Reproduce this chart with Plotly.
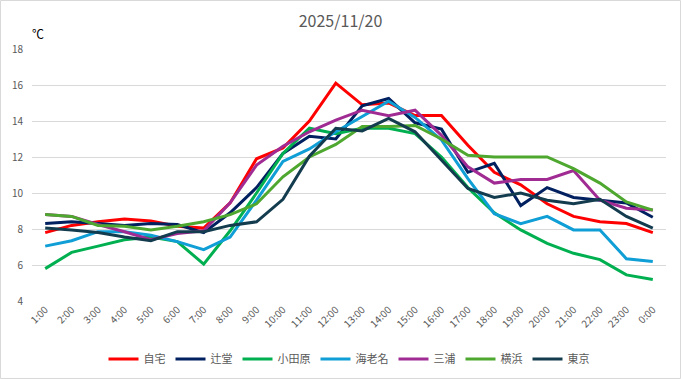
import plotly.graph_objects as go

hours = ["1:00", "2:00", "3:00", "4:00", "5:00", "6:00", "7:00", "8:00", "9:00", "10:00",
         "11:00", "12:00", "13:00", "14:00", "15:00", "16:00", "17:00", "18:00", "19:00",
         "20:00", "21:00", "22:00", "23:00", "0:00"]

jitaku = [7.8, 8.2, 8.4, 8.55, 8.45, 8.15, 8.05, 9.45, 11.9, 12.5, 14.0, 16.1,
          14.9, 15.0, 14.3, 14.3, 12.65, 11.15, 10.45, 9.4, 8.7, 8.4, 8.3, 7.8]
tsujido = [8.3, 8.4, 8.3, 8.2, 8.3, 8.25, 7.8, 8.9, 10.3, 12.2, 13.15, 13.0,
           14.85, 15.25, 13.9, 13.55, 11.15, 11.65, 9.3, 10.3, 9.75, 9.6, 9.45, 8.65]
odawara = [5.8, 6.7, 7.05, 7.4, 7.55, 7.3, 6.05, 7.9, 10.0, 12.2, 13.6, 13.3,
           13.6, 13.6, 13.3, 12.0, 10.3, 8.9, 7.95, 7.2, 6.65, 6.3, 5.45, 5.2]
ebina = [7.05, 7.35, 7.85, 7.85, 7.65, 7.3, 6.85, 7.55, 9.6, 11.75, 12.45, 13.4,
         14.25, 15.1, 14.2, 12.95, 10.8, 8.85, 8.3, 8.7, 7.95, 7.95, 6.35, 6.2]
miura = [8.8, 8.7, 8.25, 7.85, 7.4, 7.75, 7.9, 9.45, 11.55, 12.6, 13.4, 14.05,
         14.6, 14.3, 14.6, 13.2, 11.45, 10.55, 10.75, 10.75, 11.25, 9.6, 9.15, 9.05]
yokohama = [8.8, 8.7, 8.2, 8.15, 7.95, 8.15, 8.4, 8.8, 9.4, 10.9, 12.0, 12.7,
            13.7, 13.7, 13.75, 13.0, 12.1, 12.0, 12.0, 12.0, 11.35, 10.55, 9.5, 9.05]
tokyo = [8.05, 7.95, 7.8, 7.55, 7.35, 7.85, 7.85, 8.2, 8.4, 9.65, 12.05, 13.6,
         13.45, 14.15, 13.4, 11.85, 10.25, 9.75, 10.0, 9.6, 9.4, 9.65, 8.7, 8.05]

series = [
    ("自宅", jitaku, "#FF0000"),
    ("辻堂", tsujido, "#002060"),
    ("小田原", odawara, "#00B050"),
    ("海老名", ebina, "#0F9ED5"),
    ("三浦", miura, "#A02B93"),
    ("横浜", yokohama, "#4EA72E"),
    ("東京", tokyo, "#133C4F"),
]

FONT = "Noto Sans CJK JP"
fig = go.Figure()
for name, vals, col in series:
    fig.add_trace(go.Scatter(x=hours, y=vals, mode="lines", name=name,
                             line=dict(color=col, width=3)))

L, R, T, B = 32, 15, 49, 78
W, H = 681, 379
pw, ph = W - L - R, H - T - B

fig.update_layout(
    width=W, height=H,
    margin=dict(l=L, r=R, t=T, b=B, autoexpand=False),
    paper_bgcolor="white", plot_bgcolor="white",
    font=dict(family=FONT, color="#595959", size=10),
    title=dict(text="2025/11/20", x=0.5, xanchor="center", y=1 - 21 / H, yanchor="middle",
               font=dict(family=FONT, size=16, color="#595959"), automargin=False),
    xaxis=dict(type="category", range=[-0.5, 23.5], tickangle=-45, showgrid=False,
               showline=False, ticks="", tickfont=dict(size=10, color="#595959"),
               automargin=False, fixedrange=True),
    yaxis=dict(range=[4, 18], dtick=2, showgrid=True, gridcolor="#D9D9D9", gridwidth=1,
               zeroline=False, showline=False, ticks="", ticklabelstandoff=8,
               automargin=False, tickfont=dict(size=10, color="#595959")),
    legend=dict(orientation="h", x=0.5, xanchor="center", y=(301 - 359) / ph, yanchor="middle",
                font=dict(size=11, color="#595959"), itemwidth=30, tracegroupgap=0),
    showlegend=True,
    annotations=[dict(text="℃", xref="paper", yref="paper", x=(38 - L) / pw,
                      y=1 + (T - 33) / ph, xanchor="center", yanchor="middle",
                      showarrow=False, font=dict(size=12, color="#000000", family=FONT))],
    shapes=[dict(type="rect", xref="paper", yref="paper",
                 x0=(-L + 0.5) / pw, x1=1 + (R - 0.5) / pw,
                 y0=(-B + 0.5) / ph, y1=1 + (T - 0.5) / ph,
                 line=dict(color="#D9D9D9", width=1), layer="below")],
)

fig.write_html("out.html", config={"displayModeBar": False},
               post_script="document.body.style.margin='0';")
